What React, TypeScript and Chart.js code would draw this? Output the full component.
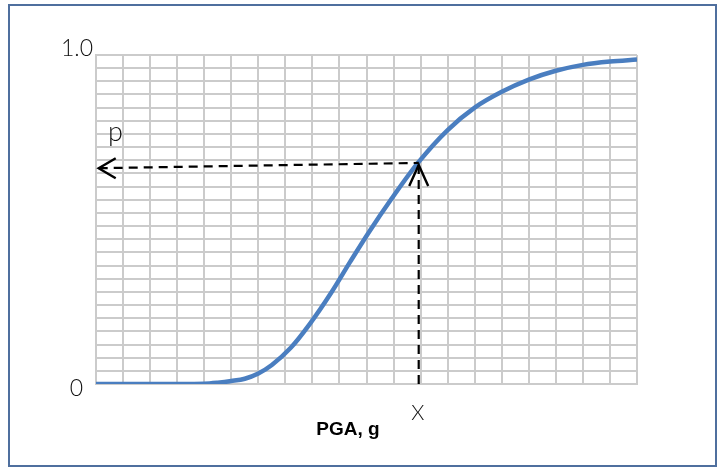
import React, { useEffect, useRef } from "react";
import { Chart, registerables } from "chart.js";

Chart.register(...registerables);

// Fragility curve: PGA (g) vs probability
const pgaValues = [0, 0.2, 0.4, 0.45, 0.5, 0.55, 0.6, 0.65, 0.72, 0.79, 0.87, 0.94, 1.01, 1.09, 1.19, 1.3, 1.4, 1.5, 1.6, 1.7, 1.8, 1.9, 2.0];
const probValues = [0, 0, 0.001, 0.004, 0.009, 0.016, 0.032, 0.058, 0.11, 0.182, 0.278, 0.372, 0.463, 0.56, 0.672, 0.772, 0.84, 0.888, 0.925, 0.952, 0.97, 0.98, 0.986];

// Reading guide (x -> p)
const guideX = [0.01, 1.193];
const guideP = [0.656, 0.672];

// Axis tick labels
const yTickValues = [0, 1];
const yTickLabels = ["0", "1.0"];
const xAxisTitle = "PGA, g";
const xMarkLabel = "X";
const pMarkLabel = "p";

const LIGHT_FONT = "Lato, 'Open Sans', Roboto, 'Liberation Sans', sans-serif";

export default function App() {
  const canvasRef = useRef<HTMLCanvasElement | null>(null);

  useEffect(() => {
    const canvas = canvasRef.current;
    if (!canvas) return;

    const overlay = {
      id: "overlay",
      afterDraw(chart: any) {
        const ctx = chart.ctx as CanvasRenderingContext2D;
        const xs = chart.scales.x;
        const ys = chart.scales.y;
        ctx.save();

        // arrowheads
        ctx.strokeStyle = "#000";
        ctx.lineWidth = 2.4;
        ctx.lineJoin = "miter";
        ctx.lineCap = "butt";
        const hx = xs.getPixelForValue(guideX[0]);
        const hy = ys.getPixelForValue(guideP[0]);
        ctx.beginPath();
        ctx.moveTo(hx + 17, hy - 10);
        ctx.lineTo(hx, hy);
        ctx.lineTo(hx + 17, hy + 10);
        ctx.stroke();

        const vx = xs.getPixelForValue(guideX[1]);
        const vy = ys.getPixelForValue(guideP[1]) + 2;
        ctx.beginPath();
        ctx.moveTo(vx - 9.5, vy + 21);
        ctx.lineTo(vx, vy);
        ctx.lineTo(vx + 9.5, vy + 21);
        ctx.stroke();

        // y tick labels
        ctx.fillStyle = "#111";
        ctx.font = "300 23px " + LIGHT_FONT;
        ctx.textAlign = "right";
        ctx.textBaseline = "middle";
        yTickValues.forEach((v, i) => {
          const py = ys.getPixelForValue(v) + (v === 0 ? 5 : -6);
          const px = xs.left - (v === 0 ? 13 : 3);
          ctx.fillText(yTickLabels[i], px, py);
        });

        // p label
        ctx.textAlign = "left";
        ctx.textBaseline = "alphabetic";
        ctx.font = "300 27px " + LIGHT_FONT;
        ctx.fillText(pMarkLabel, xs.left + 12, hy - 27);

        // X label
        ctx.font = "300 21px " + LIGHT_FONT;
        ctx.textAlign = "center";
        ctx.textBaseline = "middle";
        ctx.fillText(xMarkLabel, vx - 1, ys.bottom + 29);

        // axis title
        ctx.font = "bold 19px 'Liberation Sans', Arial, sans-serif";
        ctx.textAlign = "center";
        ctx.textBaseline = "alphabetic";
        ctx.fillStyle = "#000";
        ctx.fillText(xAxisTitle, 348, ys.bottom + 51);

        ctx.restore();
      },
    };

    const chart = new Chart(canvas, {
      type: "line",
      data: {
        datasets: [
          {
            label: "Fragility",
            data: pgaValues.map((x, i) => ({ x, y: probValues[i] })),
            borderColor: "#4a7ec0",
            borderWidth: 4.5,
            pointRadius: 0,
            cubicInterpolationMode: "monotone",
            fill: false,
            order: 1,
          },
          {
            label: "guideH",
            data: guideX.map((x, i) => ({ x, y: guideP[i] })),
            borderColor: "#000",
            borderWidth: 2.2,
            borderDash: [9, 6],
            pointRadius: 0,
            tension: 0,
            fill: false,
            order: 0,
          },
          {
            label: "guideV",
            data: [
              { x: guideX[1], y: 0 },
              { x: guideX[1], y: guideP[1] },
            ],
            borderColor: "#000",
            borderWidth: 2.2,
            borderDash: [9, 6],
            pointRadius: 0,
            tension: 0,
            fill: false,
            order: 0,
          },
        ],
      },
      options: {
        animation: false,
        responsive: false,
        maintainAspectRatio: false,
        devicePixelRatio: 1,
        layout: { padding: { left: 96, right: 84, top: 55, bottom: 86 } },
        plugins: {
          legend: { display: false },
          tooltip: { enabled: false },
          title: { display: false },
        },
        scales: {
          x: {
            type: "linear",
            min: 0,
            max: 2,
            ticks: { display: false, stepSize: 0.1 },
            grid: { color: "#cbcbcb", lineWidth: 2, drawTicks: false },
            border: { display: true, color: "#cbcbcb", width: 2 },
          },
          y: {
            type: "linear",
            min: 0,
            max: 1,
            ticks: { display: false, stepSize: 0.04 },
            grid: { color: "#cbcbcb", lineWidth: 2, drawTicks: false },
            border: { display: true, color: "#cbcbcb", width: 2 },
          },
        },
      },
      plugins: [overlay],
    });

    return () => chart.destroy();
  }, []);

  return (
    <div style={{ position: "fixed", left: 0, top: 0, width: 721, height: 470, background: "#fff" }}>
      <div
        style={{
          position: "absolute",
          left: 8,
          top: 4,
          width: 709,
          height: 463,
          border: "2px solid #4f6f9e",
          boxSizing: "border-box",
        }}
      />
      <canvas ref={canvasRef} width={721} height={470} style={{ position: "absolute", left: 0, top: 0, width: 721, height: 470 }} />
    </div>
  );
}
